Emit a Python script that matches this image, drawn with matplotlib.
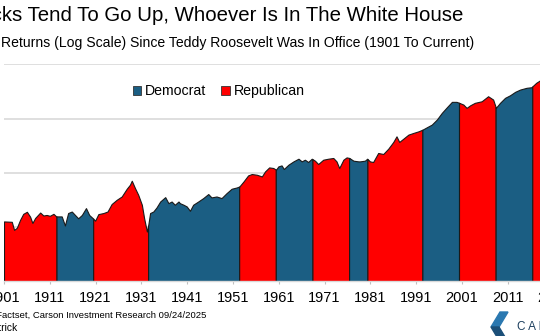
import numpy as np
import matplotlib
matplotlib.use("Agg")
import matplotlib.pyplot as plt
from matplotlib.patches import Patch, Polygon

plt.rcParams['font.family'] = ['Liberation Sans', 'DejaVu Sans']

# Dow level (decimal year, index level)
years = [1901.7, 1903.4, 1903.9, 1904.5, 1905.2, 1905.9, 1906.7, 1907.4, 1907.9, 1908.5,
         1909.6, 1910.3, 1911.0, 1911.7, 1912.5, 1913.1, 1914.3, 1915.0, 1915.7, 1916.5,
         1917.2, 1917.9, 1918.7, 1919.6, 1920.3, 1921.1, 1921.6, 1922.3, 1923.4, 1924.3,
         1925.2, 1926.3, 1927.4, 1928.5, 1929.2, 1929.6, 1930.3, 1931.0, 1931.8, 1932.3,
         1932.9, 1933.2, 1933.6, 1934.3, 1935.0, 1935.8, 1936.9, 1937.6, 1938.3, 1939.0,
         1939.8, 1940.1, 1940.9, 1941.6, 1942.3, 1943.0, 1944.1, 1945.2, 1946.3, 1947.0,
         1948.1, 1949.2, 1950.3, 1951.4, 1952.5, 1953.1, 1954.0, 1955.0, 1955.8, 1956.9,
         1958.0, 1958.7, 1959.6, 1960.5, 1961.1, 1961.6, 1962.3, 1962.8, 1963.8, 1964.9,
         1966.0, 1966.7, 1967.4, 1968.1, 1968.9, 1969.6, 1970.3, 1971.4, 1972.5, 1973.6,
         1974.3, 1974.9, 1975.8, 1976.5, 1977.1, 1978.0, 1979.1, 1979.4, 1980.5, 1981.0,
         1981.6, 1982.3, 1983.4, 1984.5, 1985.6, 1986.7, 1987.4, 1988.0, 1988.9, 1990.0,
         1991.1, 1992.2, 1993.1, 1994.0, 1995.1, 1996.2, 1997.3, 1998.4, 1999.5, 2000.5,
         2001.1, 2002.0, 2002.7, 2003.5, 2004.5, 2006.0, 2007.4, 2008.5, 2009.1, 2010.0,
         2011.1, 2012.2, 2013.3, 2014.4, 2015.8, 2016.9, 2017.1, 2017.9, 2018.7, 2019.2]
dow = [63, 62, 44, 48, 67, 87, 95, 77, 59, 73,
       92, 81, 83, 80, 87, 78, 78, 53, 90, 96,
       83, 72, 83, 111, 83, 72, 65, 86, 90, 96,
       132, 158, 182, 253, 300, 356, 260, 196, 128, 72,
       41, 54, 90, 96, 114, 147, 177, 137, 147, 128,
       147, 137, 128, 119, 99, 128, 147, 170, 202, 175,
       182, 170, 210, 253, 267, 279, 345, 446, 473, 459,
       427, 529, 627, 611, 568, 654, 683, 586, 704, 810,
       908, 810, 870, 789, 908, 834, 724, 870, 908, 936,
       810, 611, 870, 960, 936, 834, 810, 810, 834, 908,
       810, 789, 1158, 1110, 1390, 1850, 2350, 1850, 2130, 2530,
       2720, 2910, 3130, 3450, 3870, 4790, 6380, 8100, 10190, 10190,
       9770, 9080, 7890, 8810, 9770, 10450, 12940, 11240, 7890, 9770,
       12090, 13500, 15600, 17200, 18520, 19000, 19800, 22900, 25300, 26200]

# presidential terms: start of each term and party
term_start = [1901.7, 1913.17, 1921.17, 1933.17, 1953.05, 1961.05, 1969.05,
              1977.05, 1981.05, 1993.05, 2001.05, 2009.05, 2017.05]
term_party = ['R', 'D', 'R', 'D', 'R', 'D', 'R', 'D', 'R', 'D', 'R', 'D', 'R']

tick_years = [1901, 1911, 1921, 1931, 1941, 1951, 1961, 1971, 1981, 1991, 2001, 2011, 2021]

colors = {'D': '#1b5e83', 'R': '#ff0000'}
edge = '#1a1a1a'

W, H = 540, 336
fig = plt.figure(figsize=(W / 100, H / 100), dpi=100)
ax = fig.add_axes([4 / W, 55 / H, 568 / W, 217 / H])
ax.set_yscale('log')

yrs = np.array(years)
vals = np.array(dow, dtype=float)
ends = term_start[1:] + [years[-1]]
for s, e, p in zip(term_start, ends, term_party):
    inside = (yrs > s) & (yrs < e)
    xs = np.concatenate([[s], yrs[inside], [e]])
    ys = np.interp(xs, yrs, vals)
    ax.fill_between(xs, ys, 1, facecolor=colors[p], edgecolor=edge, linewidth=0.8, zorder=2)

ax.set_xlim(1901.7, 2025.72)
ax.set_ylim(5, 51000)

ax.set_yticks([5, 50, 500, 5000, 50000])
ax.yaxis.set_minor_locator(matplotlib.ticker.NullLocator())
ax.yaxis.grid(True, color='#d9d9d9', linewidth=1.2)
ax.set_axisbelow(True)
ax.tick_params(axis='y', left=False, labelleft=False)

ax.set_xticks([t + 0.7 for t in tick_years])
ax.set_xticklabels([str(t) for t in tick_years])
ax.tick_params(axis='x', length=2.5, color='#bfbfbf', pad=5, labelsize=10.5)
for side in ['top', 'right', 'left']:
    ax.spines[side].set_visible(False)
ax.spines['bottom'].set_color('#d9d9d9')
ax.spines['bottom'].set_linewidth(1.0)

handles = [Patch(facecolor=colors['D'], edgecolor='#333333', linewidth=0.6, label='Democrat'),
           Patch(facecolor=colors['R'], edgecolor='#333333', linewidth=0.6, label='Republican')]
fig.legend(handles=handles, loc='center', bbox_to_anchor=(218.5 / W, 1 - 91 / H),
           ncol=2, frameon=False, fontsize=10.2, handlelength=0.6, handleheight=0.6,
           handletextpad=0.25, columnspacing=1.1)

# titles (the reference is cropped on the left)
fig.text(463 / W, 1 - 21.4 / H, 'Stocks Tend To Go Up, Whoever Is In The White House',
         ha='right', va='baseline', fontsize=14.7)
fig.text(1 / W, 1 - 46.5 / H,
         'Returns (Log Scale) Since Teddy Roosevelt Was In Office (1901 To Current)',
         ha='left', va='baseline', fontsize=10.1)
fig.text(206 / W, 1 - 318 / H, 'Source: Factset, Carson Investment Research 09/24/2025',
         ha='right', va='baseline', fontsize=6.8)
fig.text(18 / W, 1 - 331 / H, '@RyanDetrick', ha='right', va='baseline', fontsize=7.4)

# Carson logo (partly cropped)
def px(pts):
    return [(x / W, 1 - y / H) for x, y in pts]

fig.patches.append(Polygon(px([(500, 312), (508, 312), (499, 327), (491, 327)]),
                           closed=True, transform=fig.transFigure, color='#2a78b0'))
fig.patches.append(Polygon(px([(491, 327), (499, 327), (508, 342), (500, 342)]),
                           closed=True, transform=fig.transFigure, color='#1b4f78'))
fig.text(517 / W, 1 - 330 / H, 'C A R S O N', ha='left', va='baseline', fontsize=8.5,
         color='#1c3f5e')

fig.savefig('out.png', dpi=100)
